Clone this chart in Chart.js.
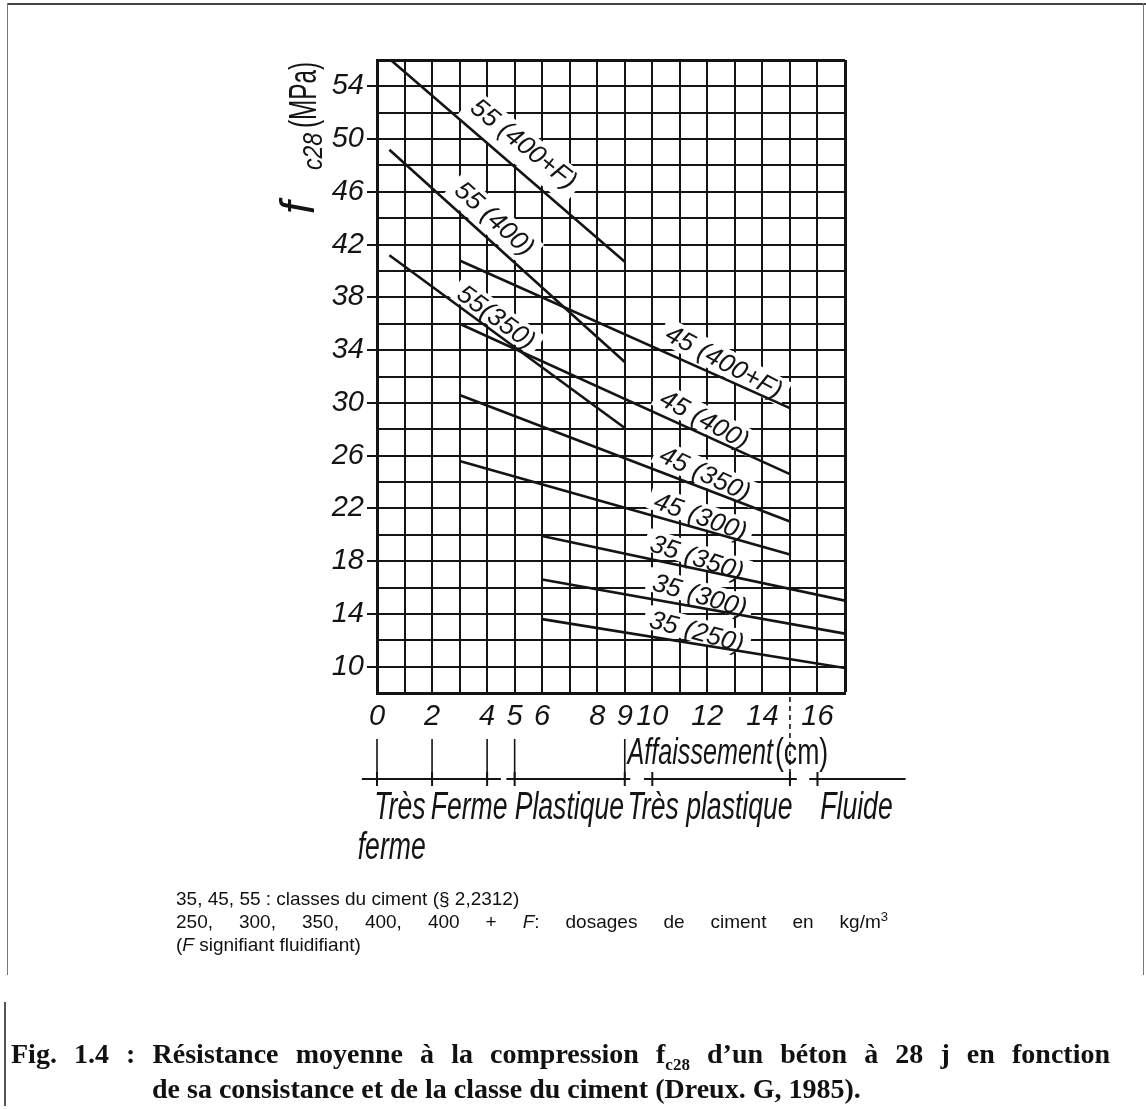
<!DOCTYPE html>
<html><head><meta charset="utf-8">
<script src="https://cdn.jsdelivr.net/npm/chart.js@4.4.1/dist/chart.umd.min.js"></script>
<style>
html,body{margin:0;padding:0;background:#fff;}
#wrap{position:relative;width:1146px;height:1109px;overflow:hidden;background:#fff;}
#c{position:absolute;left:0;top:0;}
.note{position:absolute;left:176px;font-family:'Liberation Sans',Arial,sans-serif;font-size:19px;color:#111;white-space:nowrap;line-height:23px;}
.cap{position:absolute;font-family:'Liberation Serif','Times New Roman',serif;font-weight:bold;font-size:28px;color:#111;white-space:nowrap;line-height:34px;}
.fr{position:absolute;background:#444;}
</style></head><body>
<div id="wrap">
<canvas id="c" width="1146" height="1109"></canvas>
<div class="fr" style="left:8px;top:3px;width:1138px;height:2px;"></div>
<div class="fr" style="left:7px;top:3px;width:1px;height:972px;background:#777"></div>
<div class="fr" style="left:1143px;top:3px;width:1px;height:972px;background:#777"></div>
<div class="fr" style="left:4px;top:1002px;width:2px;height:104px;background:#555"></div>
<div class="note" style="top:887px;">35, 45, 55 : classes du ciment (§ 2,2312)</div>
<div class="note" style="top:910px;width:712px;text-align:justify;text-align-last:justify;">250, 300, 350, 400, 400 + <i>F</i>: dosages de ciment en kg/m<sup style="font-size:13px;line-height:0">3</sup></div>
<div class="note" style="top:933px;">(<i>F</i> signifiant fluidifiant)</div>
<div class="cap" style="left:11px;top:1037px;width:1099px;text-align:justify;text-align-last:justify;">Fig. 1.4 : Résistance moyenne à la compression f<sub style="font-size:17px;line-height:0">c28</sub> d’un béton à 28 j en fonction</div>
<div class="cap" style="left:152px;top:1072px;">de sa consistance et de la classe du ciment (Dreux. G, 1985).</div>
</div>
<script>
// ---- data ----
const seriesNames = ['55 (400+F)','55 (400)','55(350)','45 (400+F)','45 (400)','45 (350)','45 (300)','35 (350)','35 (300)','35 (250)'];
const slumpStart = [0.5, 0.45, 0.45, 3, 3, 3, 3, 6, 6, 6];
const slumpEnd   = [9, 9, 9, 15, 15, 15, 15, 17, 17, 17];
const fcStart    = [56, 49.2, 41.2, 40.8, 36.0, 30.6, 25.6, 19.9, 16.6, 13.6];
const fcEnd      = [40.7, 33.1, 28.1, 29.6, 24.6, 21.0, 18.5, 15.0, 12.5, 9.9];
const slumpTicks = [0, 2, 4, 5, 6, 8, 9, 10, 12, 14, 16];
const strengthTicks = [10, 14, 18, 22, 26, 30, 34, 38, 42, 46, 50, 54];
const consistencyClasses = ['Très', 'Ferme', 'Plastique', 'Très plastique', 'Fluide'];
const classBounds = [[0, 2, 4], [5, 9], [10, 15], [16]];

// ---- label placement (style) ----
const labelAt    = [4.8, 3.8, 4.05, 12.35, 11.65, 11.7, 11.6, 11.5, 11.6, 11.5];
const labelGap   = [13, 9, 3, 5, 4, 4, 2, 1, 2, 2];
const labelTilt  = [-2, 0, 0, 4, 4, 4, 4, 6, 6, 6];

const INK = '#141414';
function txt(ctx, s, x, y, o) {
  ctx.save();
  ctx.translate(x, y);
  if (o.rot) ctx.rotate(o.rot);
  ctx.scale(o.sx || 1, o.sy || 1);
  ctx.font = o.font;
  ctx.fillStyle = o.color || INK;
  ctx.textAlign = o.align || 'left';
  ctx.textBaseline = o.base || 'alphabetic';
  ctx.fillText(s, 0, 0);
  const w = ctx.measureText(s).width;
  ctx.restore();
  return w * (o.sx || 1);
}

function labelGeom(chart, i) {
  const xs = chart.scales.x, ys = chart.scales.y;
  const x0 = xs.getPixelForValue(slumpStart[i]), y0 = ys.getPixelForValue(fcStart[i]);
  const x1 = xs.getPixelForValue(slumpEnd[i]), y1 = ys.getPixelForValue(fcEnd[i]);
  const t = (labelAt[i] - slumpStart[i]) / (slumpEnd[i] - slumpStart[i]);
  const fy = fcStart[i] + t * (fcEnd[i] - fcStart[i]);
  return {px: xs.getPixelForValue(labelAt[i]), py: ys.getPixelForValue(fy),
          ang: Math.atan2(y1 - y0, x1 - x0) + labelTilt[i] * Math.PI / 180};
}
const LFONT = 'italic 26px "Liberation Sans", Arial, sans-serif';

const lineLabels = {
  id: 'lineLabels',
  beforeDatasetsDraw(chart) {
    const ctx = chart.ctx;
    ctx.save();
    ctx.font = LFONT;
    seriesNames.forEach((s, i) => {
      const g = labelGeom(chart, i);
      const w = ctx.measureText(s).width;
      ctx.save();
      ctx.translate(g.px, g.py);
      ctx.rotate(g.ang);
      ctx.fillStyle = '#fff';
      ctx.fillRect(-w / 2 - 6, -labelGap[i] - 24, w + 12, 24 + labelGap[i] - 2);
      ctx.restore();
    });
    ctx.restore();
  },
  afterDatasetsDraw(chart) {
    const ctx = chart.ctx;
    seriesNames.forEach((s, i) => {
      const g = labelGeom(chart, i);
      ctx.save();
      ctx.translate(g.px, g.py);
      ctx.rotate(g.ang);
      txt(ctx, s, 0, -labelGap[i] - 2, {font: LFONT, align: 'center'});
      ctx.restore();
    });
  }
};

const extras = {
  id: 'extras',
  afterDraw(chart) {
    const ctx = chart.ctx, xs = chart.scales.x;
    const X = v => xs.getPixelForValue(v);
    const barY = 779;
    ctx.save();
    ctx.strokeStyle = INK;
    // connectors from tick labels down to consistency bar
    ctx.lineWidth = 1.6;
    [0, 2, 4, 5, 9].forEach(v => {
      ctx.beginPath(); ctx.moveTo(X(v), 739); ctx.lineTo(X(v), barY); ctx.stroke();
    });
    // dashed boundary at 15 cm
    ctx.setLineDash([5, 4]);
    ctx.beginPath(); ctx.moveTo(X(15), 697); ctx.lineTo(X(15), 786); ctx.stroke();
    ctx.setLineDash([]);
    // consistency bar segments
    ctx.lineWidth = 2;
    const segs = [[-0.55, 4.5], [4.7, 9.2], [9.7, 15.25], [15.7, 19.2]];
    segs.forEach(s => { ctx.beginPath(); ctx.moveTo(X(s[0]), barY); ctx.lineTo(X(s[1]), barY); ctx.stroke(); });
    classBounds.flat().forEach(v => {
      ctx.beginPath(); ctx.moveTo(X(v), barY - 7); ctx.lineTo(X(v), barY + 7); ctx.stroke();
    });
    // axis title
    const CF = 'italic 37px "Liberation Sans", Arial, sans-serif';
    const w1 = txt(ctx, 'Affaissement', X(9.1), 764, {font: CF, sx: 0.68});
    txt(ctx, '(cm)', X(9.1) + w1 + 2, 764, {font: '37px "Liberation Sans", Arial, sans-serif', sx: 0.72});
    // consistency class names
    const KF = 'italic 38px "Liberation Sans", Arial, sans-serif';
    const pos = [-0.1, 1.95, 5.0, 9.1, 16.1];
    consistencyClasses.forEach((s, i) => txt(ctx, s, X(pos[i]), 819, {font: KF, sx: 0.7}));
    txt(ctx, 'ferme', X(-0.7), 859, {font: KF, sx: 0.7});
    // y axis title  f_c28 (MPa)
    ctx.save();
    ctx.translate(314, 216);
    ctx.rotate(-Math.PI / 2);
    txt(ctx, 'f', 2, 0, {font: 'italic 48px "Liberation Sans", Arial, sans-serif', sx: 0.95});
    txt(ctx, 'c28', 46, 8, {font: 'italic 28px "Liberation Sans", Arial, sans-serif', sx: 0.82});
    txt(ctx, '(MPa)', 88, 2, {font: '38px "Liberation Sans", Arial, sans-serif', sx: 0.64});
    ctx.restore();
    ctx.restore();
  }
};

const datasets = seriesNames.map((name, i) => ({
  label: name,
  data: [{x: slumpStart[i], y: fcStart[i]}, {x: slumpEnd[i], y: fcEnd[i]}],
  borderColor: INK, borderWidth: 2.6, pointRadius: 0, tension: 0, fill: false
}));

const TF = {family: '"Liberation Sans", Arial, sans-serif', size: 29, style: 'italic'};
new Chart(document.getElementById('c'), {
  type: 'line',
  data: {datasets},
  options: {
    responsive: false, animation: false, events: [],
    layout: {padding: {left: 0, right: 301, top: 60, bottom: 356}},
    plugins: {legend: {display: false}, tooltip: {enabled: false}},
    scales: {
      x: {
        type: 'linear', min: 0, max: 17,
        afterFit(s) { s.height = 60; },
        ticks: {stepSize: 1, autoSkip: false, maxRotation: 0, color: INK, font: TF, padding: 7,
          callback: v => slumpTicks.includes(v) ? String(v) : ''},
        grid: {color: INK, lineWidth: c => (c.tick && c.tick.value === 17) ? 3 : 2, drawTicks: false},
        border: {color: INK, width: 3}
      },
      y: {
        type: 'linear', min: 8, max: 56,
        afterFit(s) { s.width = 377; },
        ticks: {stepSize: 2, autoSkip: false, color: INK, font: TF, padding: 3,
          callback: v => strengthTicks.includes(v) ? String(v) : ''},
        grid: {color: INK, lineWidth: c => (c.tick && c.tick.value === 56) ? 3 : 2, tickLength: 10,
          tickColor: c => (c.tick && strengthTicks.includes(c.tick.value)) ? INK : 'rgba(0,0,0,0)'},
        border: {color: INK, width: 3}
      }
    }
  },
  plugins: [lineLabels, extras]
});
</script>
</body></html>
